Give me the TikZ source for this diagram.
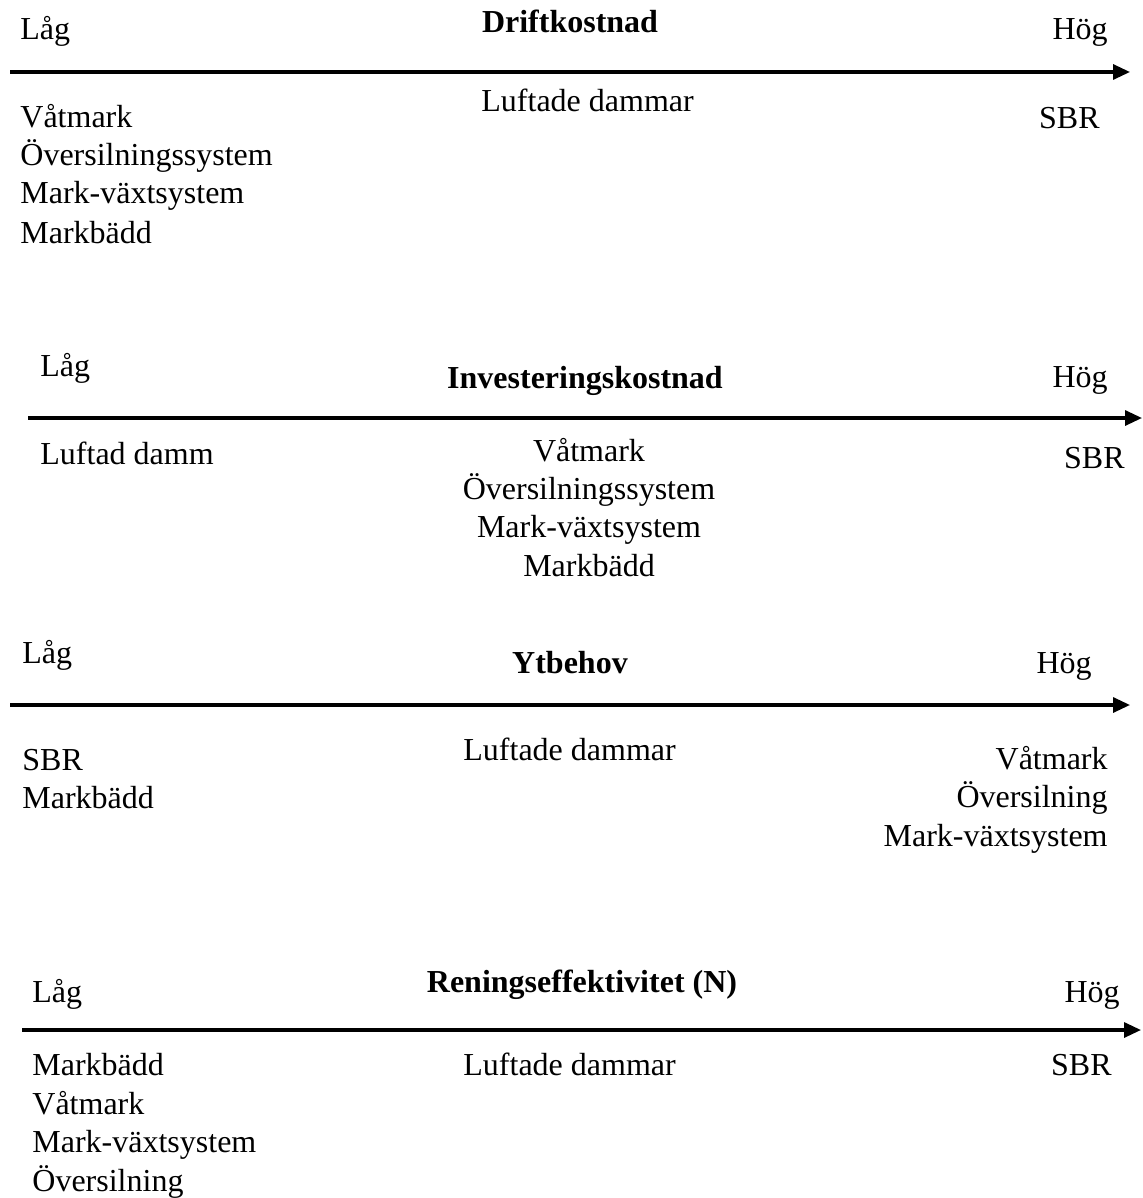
\documentclass[tikz,border=0pt]{standalone}
\usepackage{fontspec}
\setmainfont{Liberation Serif}
\usetikzlibrary{arrows.meta}
\begin{document}
\begin{tikzpicture}[x=0.5pt,y=-0.5pt,
  lbl/.style={inner sep=0pt,font=\fontsize{16}{19}\selectfont},
  lw/.style={lbl,anchor=base west},
  le/.style={lbl,anchor=base east},
  lc/.style={lbl,anchor=base},
  ttl/.style={lbl,anchor=base,font=\fontsize{16}{19}\selectfont\bfseries},
  axis/.style={line width=1.6pt,-{Triangle[length=8.5pt,width=7.5pt]}}]
\useasboundingbox (0,0) rectangle (1142,1198);
% Panel 1
\coordinate (a1s) at (10,72); \coordinate (a1e) at (1130,72);
\draw[axis] (a1s) -- (a1e);
\node[lw] (l1) at (20,40) {Låg};
\node[ttl] (t1) at (570,33) {Driftkostnad};
\node[le] (h1) at (1108,40) {Hög};
\node[lw] (p1a) at (20,128) {Våtmark};
\node[lw] (p1b) at (20,166) {Översilningssystem};
\node[lw] (p1c) at (20,204) {Mark-växtsystem};
\node[lw] (p1d) at (20,243) {Markbädd};
\node[lw] (p1m) at (481,112) {Luftade dammar};
\node[le] (p1r) at (1100,129) {SBR};
% Panel 2
\coordinate (a2s) at (28,418); \coordinate (a2e) at (1142,418);
\draw[axis] (a2s) -- (a2e);
\node[lw] (l2) at (40,376) {Låg};
\node[ttl] (t2) at (585,388) {Investeringskostnad};
\node[le] (h2) at (1108,387) {Hög};
\node[lw] (p2a) at (40,464) {Luftad damm};
\node[lc] (p2b) at (589,461) {Våtmark};
\node[lc] (p2c) at (589,499) {Översilningssystem};
\node[lc] (p2d) at (589,537) {Mark-växtsystem};
\node[lc] (p2e) at (589,576) {Markbädd};
\node[le] (p2r) at (1125,468) {SBR};
% Panel 3
\coordinate (a3s) at (10,705); \coordinate (a3e) at (1130,705);
\draw[axis] (a3s) -- (a3e);
\node[lw] (l3) at (22,663) {Låg};
\node[ttl] (t3) at (570,673) {Ytbehov};
\node[le] (h3) at (1092,673) {Hög};
\node[lw] (p3a) at (22,770) {SBR};
\node[lw] (p3b) at (22,808) {Markbädd};
\node[lw] (p3m) at (463,760) {Luftade dammar};
\node[le] (p3c) at (1108,769) {Våtmark};
\node[le] (p3d) at (1108,807) {Översilning};
\node[le] (p3e) at (1108,846) {Mark-växtsystem};
% Panel 4
\coordinate (a4s) at (22,1030); \coordinate (a4e) at (1141,1030);
\draw[axis] (a4s) -- (a4e);
\node[lw] (l4) at (32,1002) {Låg};
\node[ttl] (t4) at (582,992) {Reningseffektivitet (N)};
\node[le] (h4) at (1120,1002) {Hög};
\node[lw] (p4a) at (32,1075) {Markbädd};
\node[lw] (p4b) at (32,1114) {Våtmark};
\node[lw] (p4c) at (32,1152) {Mark-växtsystem};
\node[lw] (p4d) at (32,1191) {Översilning};
\node[lw] (p4m) at (463,1075) {Luftade dammar};
\node[le] (p4r) at (1112,1075) {SBR};
\end{tikzpicture}
\end{document}
